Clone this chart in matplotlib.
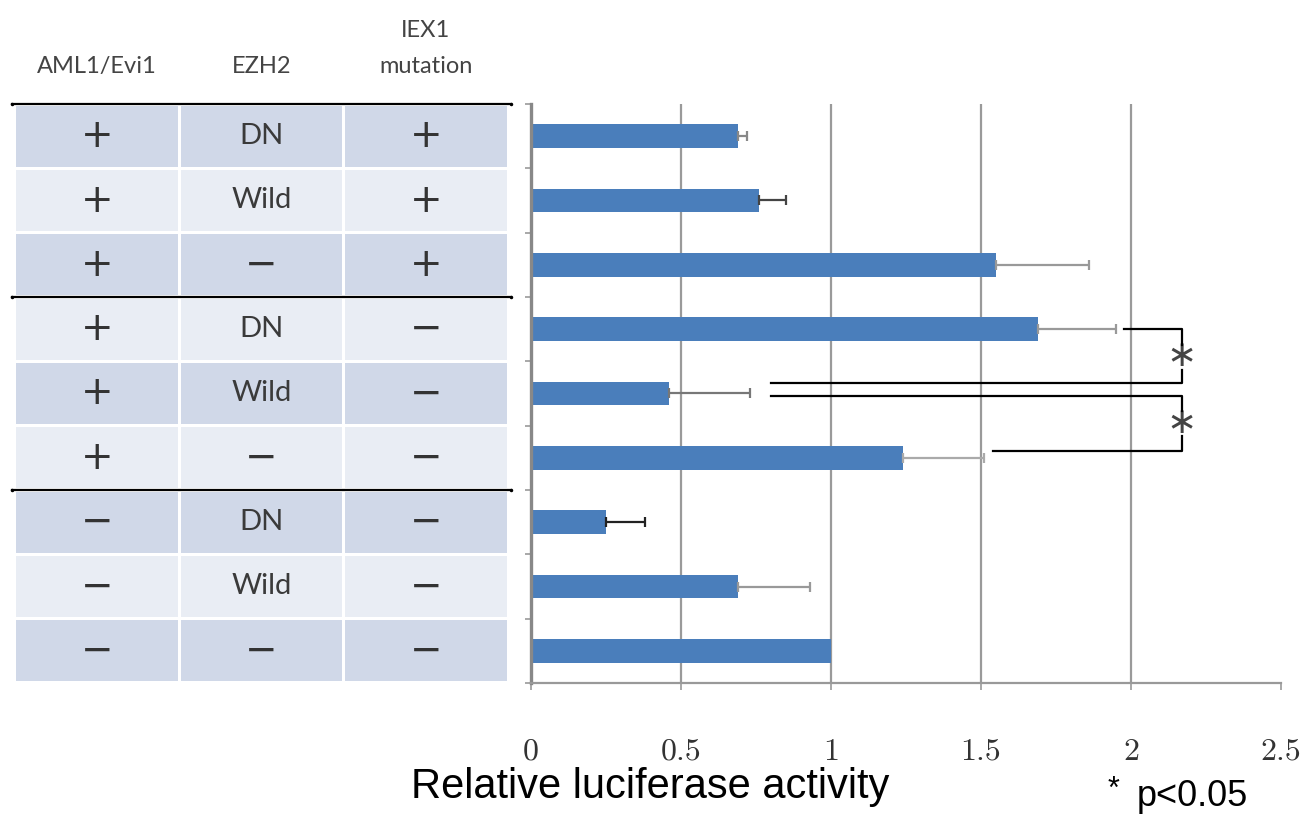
import matplotlib.pyplot as plt
import matplotlib.transforms as mtransforms
from matplotlib.patches import Rectangle

# table of conditions, top to bottom
aml1_evi1 = ['+', '+', '+', '+', '+', '+', '−', '−', '−']
ezh2 = ['DN', 'Wild', '−', 'DN', 'Wild', '−', 'DN', 'Wild', '−']
iex1_mut = ['+', '+', '+', '−', '−', '−', '−', '−', '−']
col_titles = ['AML1/Evi1', 'EZH2', 'IEX1\nmutation']

# relative luciferase activity and +error, same order
activity = [0.69, 0.76, 1.55, 1.69, 0.46, 1.24, 0.25, 0.69, 1.00]
err_plus = [0.03, 0.09, 0.31, 0.26, 0.27, 0.27, 0.13, 0.24, 0.0]
err_cols = ['#888888', '#444444', '#999999', '#999999', '#777777', '#aaaaaa', '#222222', '#999999', '#999999']

x_ticks = [0, 0.5, 1, 1.5, 2, 2.5]
x_tick_labels = ['0', '0.5', '1', '1.5', '2', '2.5']

W, H = 1309, 816


def px_box(l, t, r, b):
    return [l / W, 1 - b / H, (r - l) / W, (b - t) / H]


fig = plt.figure(figsize=(W / 100, H / 100), dpi=100)
ax = fig.add_axes(px_box(531, 104, 1281, 683))
axt = fig.add_axes(px_box(15, 104, 508, 683))

n = len(activity)
rows = list(range(n))

# ---- bar chart
for x in x_ticks[1:-1]:
    ax.axvline(x, color='#9a9a9a', lw=1.6, zorder=0)
ax.barh(rows, activity, height=0.37, color='#4A7EBB', zorder=2)
for i in rows:
    if err_plus[i] > 0:
        ax.errorbar(activity[i], i, xerr=[[0], [err_plus[i]]], fmt='none',
                    ecolor=err_cols[i], elinewidth=1.6, capsize=3.5, capthick=1.6, zorder=3)

ax.set_xlim(0, 2.5)
ax.set_ylim(n - 0.5, -0.5)
ax.set_xticks(x_ticks)
ax.set_xticklabels(x_tick_labels, family='cmr10', fontsize=23, color='#333333')
ax.set_yticks([i - 0.5 for i in range(n + 1)])
ax.set_yticklabels([])
ax.tick_params(axis='x', length=5, width=1.2, color='#999999', pad=35)
ax.tick_params(axis='y', length=4.5, width=1.2, color='#999999')
for s in ['top', 'right']:
    ax.spines[s].set_visible(False)
ax.spines['left'].set_color('#888888')
ax.spines['left'].set_linewidth(2.4)
ax.spines['bottom'].set_color('#999999')
ax.spines['bottom'].set_linewidth(1.6)

# significance brackets
bx = 2.17
top0 = activity[3] + err_plus[3] + 0.025
mid0 = activity[4] + err_plus[4] + 0.07
low0 = activity[5] + err_plus[5] + 0.03
lk = dict(color='black', lw=1.6, zorder=4, clip_on=False)
ax.plot([top0, bx, bx], [3.0, 3.0, 3.25], **lk)
ax.plot([bx, bx, mid0], [3.63, 3.84, 3.84], **lk)
ax.plot([mid0, bx, bx], [4.04, 4.04, 4.27], **lk)
ax.plot([bx, bx, low0], [4.66, 4.9, 4.9], **lk)
ax.text(bx, 3.42, '∗', ha='center', va='center', fontsize=26, color='#444444')
ax.text(bx, 4.46, '∗', ha='center', va='center', fontsize=26, color='#444444')

# ---- condition table
axt.set_xlim(0, 3)
axt.set_ylim(n - 0.5, -0.5)
axt.axis('off')
gx, gy = 0.009, 0.025
for r in rows:
    shade = '#D0D8E8' if r % 2 == 0 else '#E9EDF4'
    for c, vals in enumerate([aml1_evi1, ezh2, iex1_mut]):
        axt.add_patch(Rectangle((c + gx, r - 0.5 + gy), 1 - 2 * gx, 1 - 2 * gy,
                                facecolor=shade, edgecolor='none'))
        v = vals[r]
        if v in ('+', '−'):
            axt.text(c + 0.5, r, v, ha='center', va='center', fontsize=28,
                     family='DejaVu Sans', color='#333333')
        else:
            axt.text(c + 0.5, r, v, ha='center', va='center', fontsize=21,
                     family='Lato', color='#3a3a3a')

for yb in [-0.5, 2.5, 5.5]:
    axt.plot([-0.018, 3.018], [yb, yb], color='black', lw=1.6, clip_on=False,
             marker='o', markersize=1.5, markevery=[0, 1])

trans = mtransforms.blended_transform_factory(axt.transData, fig.transFigure)
for c, t in enumerate(col_titles):
    lines = t.split('\n')
    axt.text(c + 0.5, 1 - 73 / H, lines[-1], transform=trans, ha='center', va='baseline',
             fontsize=17, family='Lato', color='#444444')
    if len(lines) > 1:
        axt.text(c + 0.5, 1 - 37 / H, lines[0], transform=trans, ha='center', va='baseline',
                 fontsize=17, family='Lato', color='#444444')

fig.text(650 / W, 1 - 787 / H, 'Relative luciferase activity', ha='center', va='center',
         fontsize=30, family='Liberation Sans', color='black')
fig.text(1113 / W, 1 - 790 / H, '*', ha='center', va='center', fontsize=22,
         family='Liberation Sans', color='black')
fig.text(1137 / W, 1 - 797 / H, 'p<0.05', ha='left', va='center', fontsize=26,
         family='Liberation Sans', color='black')

fig.savefig('out.png', dpi=100, facecolor='white')
